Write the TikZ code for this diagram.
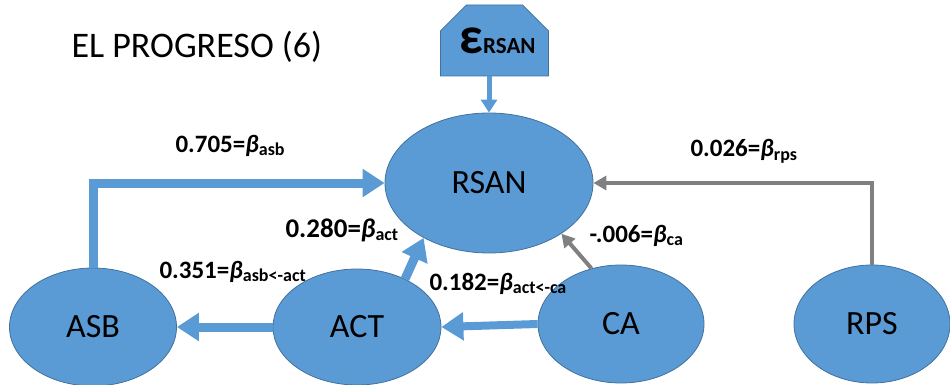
\documentclass[tikz,border=0pt]{standalone}
\usepackage{fontspec}
\setmainfont{Carlito}
\usetikzlibrary{arrows.meta,shapes.geometric,shapes.misc}
\definecolor{pathblue}{RGB}{91,155,213}
\definecolor{pathedge}{RGB}{65,113,156}
\definecolor{pathgrey}{RGB}{128,128,128}
\newcommand{\coef}[2]{#1=\textit{β}\raisebox{-0.3ex}{\fontsize{18}{18}\selectfont #2}}

\begin{document}
\begin{tikzpicture}[x=1pt,y=-1pt,
    latent/.style={ellipse,draw=pathedge,line width=0.8pt,fill=pathblue,inner sep=0pt,font=\fontsize{34}{34}\selectfont},
    coeflabel/.style={anchor=base west,font=\fontsize{25}{25}\selectfont\bfseries},
    bigpath/.style={pathblue,line width=9pt,-{Triangle[length=22pt,width=27pt]}},
    greypath/.style={pathgrey,line width=4pt,-{Triangle[length=13pt,width=14pt]}}]
                \useasboundingbox (0,0) rectangle (950,385);

                \node[anchor=base west,font=\fontsize{36}{36}\selectfont] (title) at (68,58) {EL PROGRESO (6)};

                \node[chamfered rectangle,chamfered rectangle corners={north west,north east},
                      chamfered rectangle sep=13pt,draw=pathedge,line width=0.8pt,fill=pathblue,
                      minimum width=105pt,minimum height=71pt,inner sep=0pt] (eps) at (494.5,40.5)
                      {\hspace*{6pt}\fontsize{52}{52}\selectfont\bfseries ε\fontsize{23}{23}\selectfont RSAN};

                \node[latent,minimum width=208pt,minimum height=140pt] (rsan) at (489,183) {RSAN};
                \node[latent,minimum width=167pt,minimum height=118pt] (asb) at (93,327) {ASB};
                \node[latent,minimum width=168pt,minimum height=116pt] (act) at (357,327) {ACT};
                \node[latent,minimum width=166pt,minimum height=118pt] (ca) at (621,324) {CA};
                \node[latent,minimum width=156pt,minimum height=118pt] (rps) at (872,324) {RPS};

                \draw[pathblue,line width=5pt,-{Triangle[length=13pt,width=16pt]}] (eps.south -| rsan.north) -- (rsan.north);
                \draw[bigpath] (asb.north) |- (rsan.west);
                \draw[bigpath] (act.45) -- (rsan.220);
                \draw[bigpath] (act.west) -- (asb.east);
                \draw[bigpath,line width=8pt] (ca.west) -- (act.east);
                \draw[greypath] (ca.118) -- (rsan.325);
                \draw[greypath] (rps.north) |- (rsan.east);

                \node[coeflabel] (l705) at (172,152) {\coef{0.705}{asb}};
                \node[coeflabel] (l026) at (687,157) {\coef{0.026}{rps}};
                \node[coeflabel,font=\fontsize{27}{27}\selectfont\bfseries] (l280) at (282,237) {\coef{0.280}{act}};
                \node[coeflabel] (l351) at (156,278) {\coef{0.351}{asb<-act}};
                \node[coeflabel] (l182) at (426,290) {\coef{0.182}{act<-ca}};
                \node[coeflabel] (l006) at (586,242) {\coef{-.006}{ca}};
            \end{tikzpicture}
\end{document}
